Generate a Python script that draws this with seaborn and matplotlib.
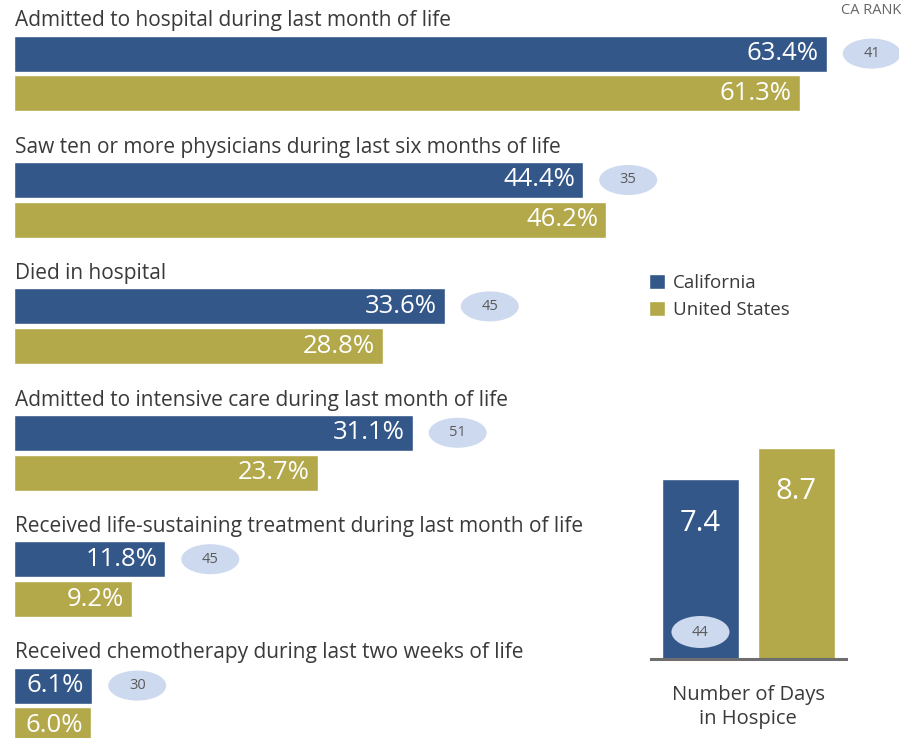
import matplotlib
matplotlib.use("Agg")
import matplotlib.pyplot as plt
from matplotlib.patches import Ellipse, Patch
import seaborn as sns
import pandas as pd

categories = [
    "Admitted to hospital during last month of life",
    "Saw ten or more physicians during last six months of life",
    "Died in hospital",
    "Admitted to intensive care during last month of life",
    "Received life-sustaining treatment during last month of life",
    "Received chemotherapy during last two weeks of life",
]
california = [63.4, 44.4, 33.6, 31.1, 11.8, 6.1]
united_states = [61.3, 46.2, 28.8, 23.7, 9.2, 6.0]
ca_rank = [41, 35, 45, 51, 45, 30]

hospice_labels = ["California", "United States"]
hospice_days = [7.4, 8.7]
hospice_rank = 44

BLUE = "#34578A"
OLIVE = "#B3A84A"
RANK_FILL = "#CDD9EE"
TEXT = "#3A3A3A"
RANK_TEXT = "#5A5A5A"

sns.set_style("white")
plt.rcParams["font.family"] = ["Open Sans", "DejaVu Sans"]

W, H = 907, 738
fig = plt.figure(figsize=(W / 100, H / 100), dpi=100)

# ---------- horizontal bars ----------
left_px, right_px = 14, 899
xmax = (right_px - left_px) / 12.82
ax = fig.add_axes([left_px / W, 0, (right_px - left_px) / W, 1])

df = pd.DataFrame({
    "measure": categories * 2,
    "region": ["California"] * len(categories) + ["United States"] * len(categories),
    "value": california + united_states,
})
sns.barplot(data=df, y="measure", x="value", hue="region", order=categories,
            hue_order=["California", "United States"],
            palette=[BLUE, OLIVE], width=0.63, gap=0.1, saturation=1,
            orient="h", legend=False, ax=ax)

pitch = 126.4
ax.set_xlim(0, xmax)
ax.set_ylim((H - 73.5) / pitch, -73.5 / pitch)
ax.axis("off")

unit_per_px = 1 / 12.82
for cont, vals in zip(ax.containers, [california, united_states]):
    for rect, v in zip(cont, vals):
        yc = rect.get_y() + rect.get_height() / 2
        ax.text(rect.get_width() - 8 * unit_per_px, yc, f"{v:.1f}%",
                ha="right", va="center", color="white", fontsize=18.5)

for i, (cat, v, r) in enumerate(zip(categories, california, ca_rank)):
    ax.text(0.1, i - 0.372, cat, ha="left", va="baseline", color=TEXT, fontsize=15)
    rect = ax.containers[0][i]
    yc = rect.get_y() + rect.get_height() / 2
    xc = v + 45 * unit_per_px
    ax.add_patch(Ellipse((xc, yc), 58 * unit_per_px, 30 / pitch,
                         facecolor=RANK_FILL, edgecolor="none"))
    ax.text(xc, yc, str(r), ha="center", va="center", color=RANK_TEXT, fontsize=10.5)

fig.text(871 / W, 1 - 11 / H, "CA RANK", ha="center", va="center",
         color="#666666", fontsize=10.5)

# legend
handles = [Patch(facecolor=BLUE, label="California"),
           Patch(facecolor=OLIVE, label="United States")]
fig.legend(handles=handles, loc="upper left", bbox_to_anchor=(649 / W, 1 - 274 / H),
           frameon=False, fontsize=13.5, handlelength=0.85, handleheight=0.85,
           handletextpad=0.45, labelspacing=0.5, labelcolor=TEXT, borderaxespad=0,
           borderpad=0)

# ---------- hospice vertical bars ----------
bx0, bx1 = 651, 846
base_y, top_y = 659, 416
ax2 = fig.add_axes([bx0 / W, (H - base_y) / H, (bx1 - bx0) / W, (base_y - top_y) / H])
hdf = pd.DataFrame({"region": hospice_labels, "days": hospice_days})
sns.barplot(data=hdf, x="region", y="days", hue="region", palette=[BLUE, OLIVE],
            width=0.8, saturation=1, legend=False, ax=ax2)
ax2.set_ylim(0, (base_y - top_y) / 24.3)
ax2.set_xlim(-0.515, 1.515)
for s in ["top", "right", "left"]:
    ax2.spines[s].set_visible(False)
ax2.spines["bottom"].set_color("#6E6E6E")
ax2.spines["bottom"].set_linewidth(2.2)
ax2.set_xticks([])
ax2.set_yticks([])
ax2.set_xlabel("")
ax2.set_ylabel("")
ax2.patch.set_alpha(0)
px2 = 24.3
for i, v in enumerate(hospice_days):
    ax2.text(i, v - 44 / px2, f"{v:.1f}", ha="center", va="center", color="white", fontsize=21)
ax2.add_patch(Ellipse((0, 27 / px2), 58 / 96, 32 / px2, facecolor=RANK_FILL,
                      edgecolor="none", clip_on=False))
ax2.text(0, 27 / px2, str(hospice_rank), ha="center", va="center", color=RANK_TEXT, fontsize=10.5)

fig.text(748 / W, 1 - 707 / H, "Number of Days\nin Hospice", ha="center", va="center",
         color=TEXT, fontsize=14.5, linespacing=1.3)

fig.savefig("out.png", dpi=100)
